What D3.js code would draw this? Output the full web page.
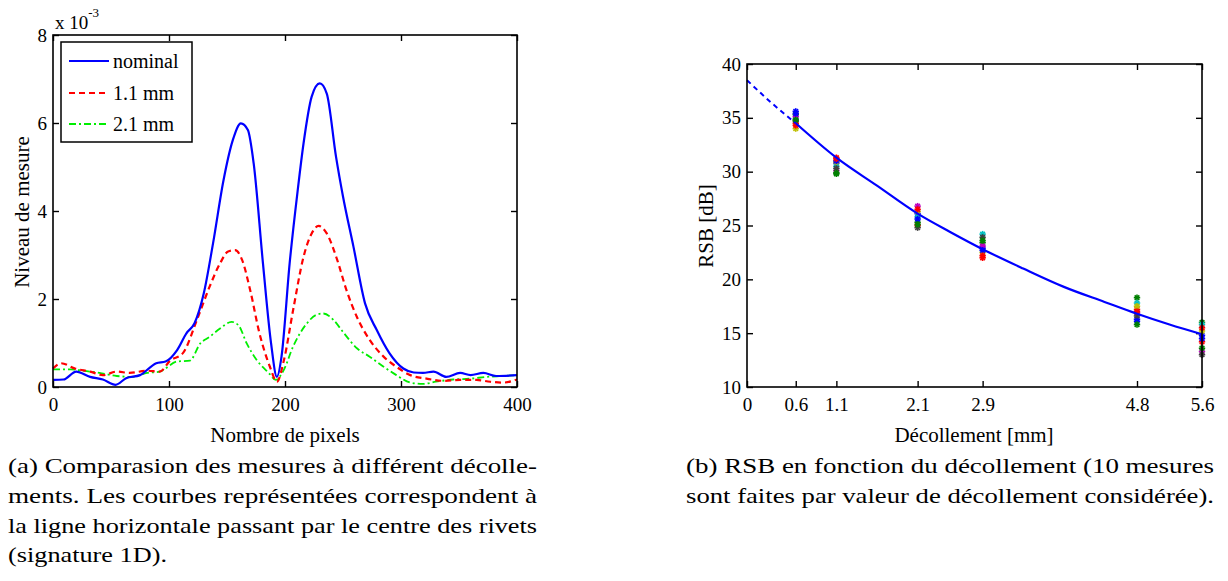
<!DOCTYPE html>
<html>
<head>
<meta charset="utf-8">
<script src="https://cdn.jsdelivr.net/npm/d3@7"></script>
<style>
  html, body { margin: 0; padding: 0; background: #fff; }
  svg { display: block; }
  text { font-family: "Liberation Serif", "Times New Roman", serif; fill: #000; }
</style>
</head>
<body>
<svg id="chart" width="1228" height="581"></svg>
<script>
// ---------- Data: left panel (signature 1D), values in units of 1e-3 ----------
const nominalX = [0, 9, 20, 32, 43, 54, 63, 75, 89, 97, 107, 115, 122, 130, 138, 147, 155, 162, 168, 173, 181, 188, 193, 197, 204, 211, 216, 223, 230, 236, 244, 250, 259, 269, 279, 290, 302, 311, 319, 328, 339, 351, 360, 371, 382, 400];
const nominalY = [0.16, 0.17, 0.35, 0.23, 0.17, 0.05, 0.20, 0.27, 0.54, 0.58, 0.84, 1.22, 1.45, 2.13, 3.27, 4.70, 5.61, 5.99, 5.84, 5.08, 2.81, 0.99, 0.23, 0.69, 2.81, 4.48, 5.54, 6.60, 6.90, 6.67, 5.23, 4.33, 3.19, 1.90, 1.30, 0.77, 0.42, 0.33, 0.32, 0.35, 0.23, 0.32, 0.27, 0.32, 0.25, 0.27];

const mm11X = [0, 7, 19, 32, 43, 55, 66, 81, 92, 101, 112, 124, 135, 144, 151, 157, 163, 170, 178, 187, 193, 199, 207, 216, 223, 229, 236, 245, 253, 262, 273, 285, 296, 308, 322, 337, 351, 365, 377, 388, 400];
const mm11Y = [0.42, 0.54, 0.42, 0.35, 0.27, 0.35, 0.32, 0.37, 0.35, 0.60, 0.77, 1.52, 2.28, 2.81, 3.08, 3.11, 2.89, 2.20, 1.22, 0.46, 0.12, 0.60, 1.75, 2.96, 3.49, 3.66, 3.49, 2.89, 2.20, 1.59, 1.07, 0.69, 0.46, 0.27, 0.19, 0.14, 0.16, 0.16, 0.12, 0.10, 0.17];

const mm21X = [0, 15, 26, 40, 55, 69, 81, 92, 107, 118, 127, 135, 144, 154, 160, 167, 176, 186, 192, 199, 207, 219, 227, 233, 242, 250, 262, 273, 285, 296, 308, 319, 330, 345, 360, 374, 388, 400];
const mm21Y = [0.40, 0.40, 0.37, 0.32, 0.25, 0.23, 0.32, 0.35, 0.58, 0.60, 0.99, 1.14, 1.33, 1.48, 1.40, 0.99, 0.60, 0.32, 0.16, 0.39, 0.92, 1.45, 1.64, 1.67, 1.52, 1.25, 0.88, 0.69, 0.46, 0.27, 0.10, 0.07, 0.12, 0.17, 0.19, 0.23, 0.25, 0.27];

const leftSeriesNames = ["nominal", "1.1 mm", "2.1 mm"];
const leftXTicks = [0, 100, 200, 300, 400];
const leftYTicks = [0, 2, 4, 6, 8];

// ---------- Data: right panel (RSB vs lift-off) ----------
const liftoff = [0.6, 1.1, 2.1, 2.9, 4.8, 5.6];
const rsb06 = [35.6, 35.3, 34.5, 34.9, 35.1, 34.0, 34.7, 35.4, 34.8, 34.3];
const rsb11 = [30.8, 29.8, 31.3, 30.5, 30.1, 30.9, 30.3, 31.0, 29.9, 31.2];
const rsb21 = [26.1, 25.3, 25.0, 25.8, 26.8, 26.3, 24.8, 25.6, 25.1, 26.5];
const rsb29 = [22.9, 23.4, 22.0, 24.2, 23.1, 22.5, 23.9, 22.7, 23.6, 22.2];
const rsb48 = [16.3, 18.3, 17.2, 17.8, 16.9, 17.5, 16.6, 16.1, 15.8, 17.0];
const rsb56 = [14.8, 16.0, 14.2, 15.8, 13.3, 15.2, 13.0, 14.5, 13.6, 15.5];
const rsbGroups = [rsb06, rsb11, rsb21, rsb29, rsb48, rsb56];

const fitX = [0, 0.3, 0.6, 1.1, 1.6, 2.1, 2.5, 2.9, 3.4, 3.9, 4.4, 4.8, 5.2, 5.6];
const fitY = [38.5, 36.4, 34.5, 31.3, 28.7, 26.1, 24.4, 22.8, 21.0, 19.3, 17.9, 16.8, 15.8, 14.9];

const rightXTicks = [0, 0.6, 1.1, 2.1, 2.9, 4.8, 5.6];
const rightYTicks = [10, 15, 20, 25, 30, 35, 40];
const measureColors = ["#0000ff", "#008000", "#ff0000", "#00bfbf", "#bf00bf", "#bfbf00", "#404040", "#0000ff", "#008000", "#ff0000"];

// ---------- Captions ----------
const captionA = ["(a) Comparasion des mesures à différent décolle-",
                  "ments. Les courbes représentées correspondent à",
                  "la ligne horizontale passant par le centre des rivets",
                  "(signature 1D)."];
const captionB = ["(b) RSB en fonction du décollement (10 mesures",
                  "sont faites par valeur de décollement considérée)."];

// ---------- Drawing ----------
const svg = d3.select("#chart");
svg.append("rect").attr("width", 1228).attr("height", 581).attr("fill", "#fff");

const TICK = 6;
function frameAxes(g, x, y, xTicks, yTicks, xFmt, yFmt) {
  const [x0, x1] = x.range(), [y0, y1] = y.range();
  const bottom = g.append("g").attr("transform", `translate(0,${y0})`)
    .call(d3.axisBottom(x).tickValues(xTicks).tickSize(-TICK).tickPadding(11).tickFormat(xFmt));
  const top = g.append("g").attr("transform", `translate(0,${y1})`)
    .call(d3.axisTop(x).tickValues(xTicks).tickSize(-TICK).tickFormat(""));
  const left = g.append("g").attr("transform", `translate(${x0},0)`)
    .call(d3.axisLeft(y).tickValues(yTicks).tickSize(-TICK).tickPadding(6).tickFormat(yFmt));
  const right = g.append("g").attr("transform", `translate(${x1},0)`)
    .call(d3.axisRight(y).tickValues(yTicks).tickSize(-TICK).tickFormat(""));
  [bottom, top, left, right].forEach(a => {
    a.select(".domain").remove();
    a.selectAll(".tick line").attr("stroke", "#000").attr("stroke-width", 1.4);
    a.selectAll("text").style("font-family", "'Liberation Serif', serif").style("font-size", "19px").attr("fill", "#000");
  });
  return g;
}
function drawFrame(g, x, y) {
  const [x0, x1] = x.range(), [y0, y1] = y.range();
  g.append("rect").attr("x", x0).attr("y", y1).attr("width", x1 - x0).attr("height", y0 - y1)
    .attr("fill", "none").attr("stroke", "#000").attr("stroke-width", 1.6);
}

// Left panel
const xL = d3.scaleLinear().domain([0, 400]).range([53, 517]);
const yL = d3.scaleLinear().domain([0, 8]).range([387, 35]);
const gL = svg.append("g");
const leftSeries = [
  { name: leftSeriesNames[0], xs: nominalX, ys: nominalY, color: "#0000ff", dash: null, width: 2.2 },
  { name: leftSeriesNames[1], xs: mm11X, ys: mm11Y, color: "#ff0000", dash: "6,4", width: 2.2 },
  { name: leftSeriesNames[2], xs: mm21X, ys: mm21Y, color: "#00ee00", dash: "7,3,2,3", width: 1.8 }
];
const lineL = d3.line().x(d => xL(d[0])).y(d => yL(d[1])).curve(d3.curveMonotoneX);
leftSeries.slice().reverse().forEach(s => {
  gL.append("path").datum(s.xs.map((v, i) => [v, s.ys[i]]))
    .attr("d", lineL).attr("fill", "none").attr("stroke", s.color)
    .attr("stroke-width", s.width).attr("stroke-dasharray", s.dash)
    .attr("stroke-linejoin", "round");
});
frameAxes(gL, xL, yL, leftXTicks, leftYTicks, d3.format("d"), d3.format("d"));
drawFrame(gL, xL, yL);

// exponent
const expo = gL.append("text").attr("x", 55).attr("y", 29).style("font-size", "19px");
expo.append("tspan").text("x 10");
expo.append("tspan").attr("dy", -12).style("font-size", "13px").text("-3");

// legend
const leg = gL.append("g");
leg.append("rect").attr("x", 61).attr("y", 42).attr("width", 131).attr("height", 100)
  .attr("fill", "#fff").attr("stroke", "#000").attr("stroke-width", 1.5);
const legRows = [61, 93, 124];
leftSeries.forEach((s, i) => {
  leg.append("line").attr("x1", 69).attr("x2", 109).attr("y1", legRows[i]).attr("y2", legRows[i])
    .attr("stroke", s.color).attr("stroke-width", s.width).attr("stroke-dasharray", s.dash);
  leg.append("text").attr("x", 113).attr("y", legRows[i] + 7).style("font-size", "20px").text(s.name);
});

gL.append("text").attr("transform", "translate(29,212) rotate(-90)").attr("text-anchor", "middle")
  .style("font-size", "21px").text("Niveau de mesure");
gL.append("text").attr("x", 285).attr("y", 442).attr("text-anchor", "middle")
  .style("font-size", "21px").text("Nombre de pixels");

// Right panel
const xR = d3.scaleLinear().domain([0, 5.6]).range([747, 1202]);
const yR = d3.scaleLinear().domain([10, 40]).range([387, 64]);
const gR = svg.append("g");
frameAxes(gR, xR, yR, rightXTicks, rightYTicks, d => (d === 0 ? "0" : d3.format(".1f")(d)), d3.format("d"));

// scatter markers ('*')
rsbGroups.forEach((grp, gi) => {
  grp.forEach((v, mi) => {
    const cx = xR(liftoff[gi]), cy = yR(v), r = 3.2, rd = 2.3;
    const m = gR.append("g").attr("stroke", measureColors[mi]).attr("stroke-width", 1.6);
    m.append("line").attr("x1", cx - r).attr("x2", cx + r).attr("y1", cy).attr("y2", cy);
    m.append("line").attr("x1", cx).attr("x2", cx).attr("y1", cy - r).attr("y2", cy + r);
    m.append("line").attr("x1", cx - rd).attr("x2", cx + rd).attr("y1", cy - rd).attr("y2", cy + rd);
    m.append("line").attr("x1", cx - rd).attr("x2", cx + rd).attr("y1", cy + rd).attr("y2", cy - rd);
  });
});

const fitPts = fitX.map((v, i) => [v, fitY[i]]);
const lineR = d3.line().x(d => xR(d[0])).y(d => yR(d[1])).curve(d3.curveMonotoneX);
gR.append("path").datum(fitPts.filter(d => d[0] <= liftoff[0]))
  .attr("d", lineR).attr("fill", "none").attr("stroke", "#0000ff").attr("stroke-width", 2)
  .attr("stroke-dasharray", "5,4");
gR.append("path").datum(fitPts.filter(d => d[0] >= liftoff[0]))
  .attr("d", lineR).attr("fill", "none").attr("stroke", "#0000ff").attr("stroke-width", 2.2);
drawFrame(gR, xR, yR);

gR.append("text").attr("transform", "translate(713,226) rotate(-90)").attr("text-anchor", "middle")
  .style("font-size", "21px").text("RSB [dB]");
gR.append("text").attr("x", 974).attr("y", 442).attr("text-anchor", "middle")
  .style("font-size", "21px").text("Décollement [mm]");

// Captions
const capBase = [473, 503, 533, 562];
const capAWidths = [529, 529, 529, 159];
captionA.forEach((t, i) => {
  svg.append("text").attr("x", 8).attr("y", capBase[i]).style("font-size", "22px")
    .attr("textLength", capAWidths[i]).attr("lengthAdjust", "spacingAndGlyphs").text(t);
});
const capBWidths = [528, 528];
captionB.forEach((t, i) => {
  svg.append("text").attr("x", 686).attr("y", capBase[i]).style("font-size", "22px")
    .attr("textLength", capBWidths[i]).attr("lengthAdjust", "spacingAndGlyphs").text(t);
});
</script>
</body>
</html>
